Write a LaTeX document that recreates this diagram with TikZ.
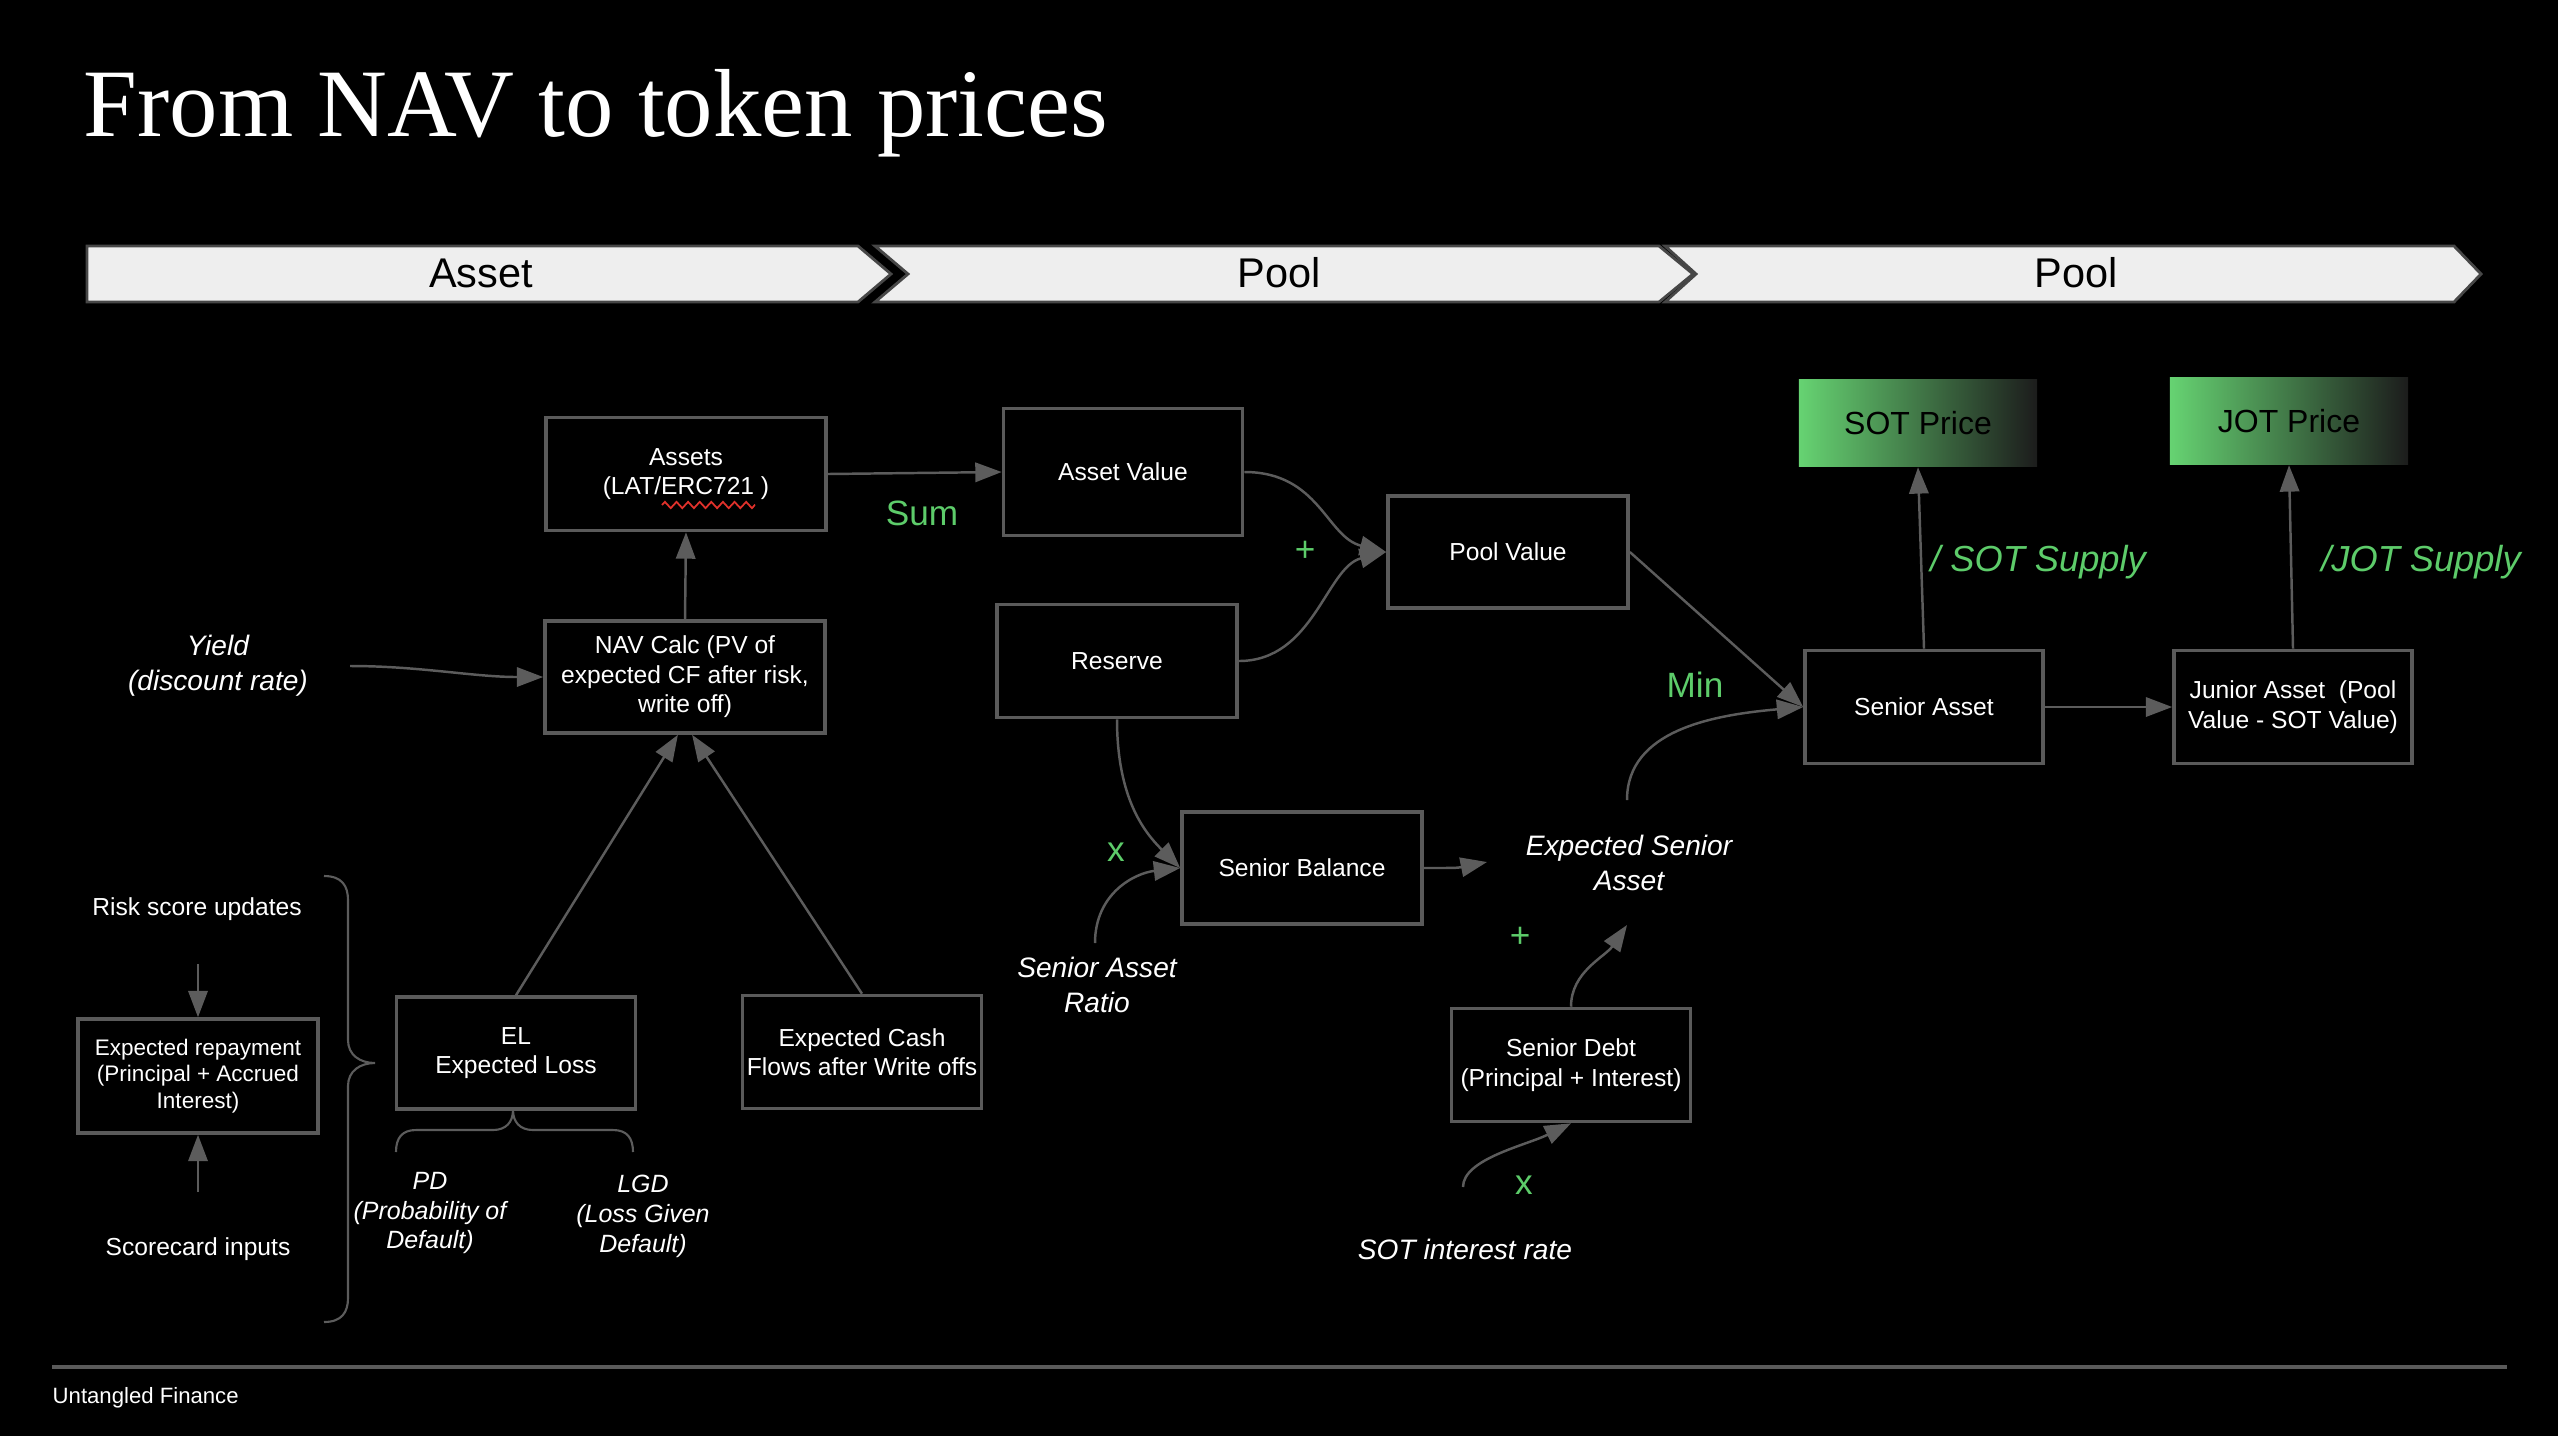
\documentclass[tikz,border=0pt]{standalone}
\usepackage{fontspec}
\setmainfont{Liberation Sans}
\newfontfamily\titlefont{Liberation Serif}
\usetikzlibrary{arrows.meta,decorations.pathmorphing}
\definecolor{boxgray}{HTML}{5A5A5A}
\definecolor{linegray}{HTML}{5C5C5C}
\definecolor{accent}{HTML}{5DCC6A}
\definecolor{barfill}{HTML}{EEEEEE}
\definecolor{baredge}{HTML}{474747}
\definecolor{pricegreen}{HTML}{66D372}
\definecolor{pricedark}{HTML}{1C1C1C}
\definecolor{spellred}{HTML}{E0312B}
\begin{document}
\begin{tikzpicture}[x=0.01cm,y=-0.01cm,
  box/.style={draw=boxgray, line width=1pt, fill=black, text=white,
    minimum width=2.39cm, minimum height=1.13cm, inner sep=0pt, align=center,
    font=\fontsize{7}{8.4}\selectfont},
  pricebox/.style={left color=pricegreen, right color=pricedark,
    minimum width=2.38cm, minimum height=0.87cm, inner sep=0pt,
    text=black, font=\fontsize{9.1}{11}\selectfont},
  conn/.style={draw=linegray, line width=0.7pt, -{Triangle[length=7.5pt,width=5.5pt]}},
  brace/.style={draw=linegray, line width=0.6pt},
  lbl/.style={text=white, align=center, font=\itshape\fontsize{8}{10}\selectfont},
  smalllbl/.style={text=white, align=center, font=\itshape\fontsize{7.1}{8.5}\selectfont},
  plainlbl/.style={text=white, align=center, font=\fontsize{7}{8.4}\selectfont},
  glbl/.style={text=accent, font=\fontsize{10}{12}\selectfont},
  gitlbl/.style={text=accent, font=\itshape\fontsize{10.3}{12}\selectfont},
  bar/.style={fill=barfill, draw=baredge, line width=0.8pt, line join=miter},
  bartext/.style={text=black, font=\fontsize{11.8}{14}\selectfont}
]
% page
\fill[black] (0,0) rectangle (2558,1436);
\useasboundingbox (0,0) rectangle (2558,1436);

% title
\node[anchor=base west, inner sep=0pt, text=white,
  font=\titlefont\fontsize{27.5}{32}\selectfont] (title) at (83,136) {From NAV to token prices};

% stage bar
\draw[bar] (87,246) -- (858,246) -- (891,274) -- (858,302) -- (87,302) -- cycle;
\draw[bar] (875,246) -- (1659,246) -- (1693,274) -- (1659,302) -- (875,302) -- (908,274) -- cycle;
\draw[bar] (1665,246) -- (2454,246) -- (2481,274) -- (2454,302) -- (1665,302) -- (1696,274) -- cycle;
\node[bartext] (stageA) at (481,273) {Asset};
\node[bartext] (stageB) at (1279,273) {Pool};
\node[bartext] (stageC) at (2076,273) {Pool};

% asset side
\node[box, minimum width=2.80cm] (assets) at (686,474) {Assets\\(LAT/ERC721 )};
\draw[spellred, line width=0.5pt, decorate,
  decoration={zigzag, segment length=3.3pt, amplitude=0.9pt}] (662,505) -- (755,505);
\node[box, minimum width=2.80cm, minimum height=1.12cm] (nav) at (685,677)
  {NAV Calc (PV of\\expected CF after risk,\\write off)};
\node[box, minimum height=1.12cm] (el) at (516,1053) {EL\\Expected Loss};
\node[box] (cash) at (862,1052) {Expected Cash\\Flows after Write offs};
\node[box, minimum width=2.40cm, minimum height=1.14cm,
  font=\fontsize{6.4}{7.5}\selectfont] (rep) at (198,1076)
  {Expected repayment\\(Principal + Accrued\\Interest)};

\node[lbl] (yield) at (218,666) {Yield\\(discount rate)};
\coordinate (yieldend) at (350,666);
\node[plainlbl] (risk) at (197,909) {Risk score updates};
\node[plainlbl] (score) at (198,1249) {Scorecard inputs};
\coordinate (riskend) at (198,964);
\coordinate (scoreend) at (198,1192);
\node[smalllbl] (pd) at (430,1213) {PD\\(Probability of\\Default)};
\node[smalllbl] (lgd) at (643,1216) {LGD\\(Loss Given\\Default)};

% braces
\draw[brace] (324,876) .. controls (342,876) and (348,886) .. (348,900) -- (348,1040)
  .. controls (348,1055) and (360,1063) .. (375,1063)
  .. controls (360,1063) and (348,1071) .. (348,1086) -- (348,1298)
  .. controls (348,1312) and (342,1322) .. (324,1322);
\draw[brace] (396,1152) .. controls (396,1138) and (402,1130) .. (416,1130) -- (493,1130)
  .. controls (506,1130) and (513,1122) .. (513,1110)
  .. controls (513,1122) and (520,1130) .. (533,1130) -- (613,1130)
  .. controls (627,1130) and (633,1138) .. (633,1152);

% pool side
\node[box, minimum height=1.27cm] (assetval) at (1123,472) {Asset Value};
\node[box, minimum width=2.40cm] (reserve) at (1117,661) {Reserve};
\node[box, minimum width=2.40cm, minimum height=1.12cm] (poolval) at (1508,552) {Pool Value};
\node[box, minimum width=2.40cm, minimum height=1.12cm] (senbal) at (1302,868) {Senior Balance};
\node[box] (sendebt) at (1571,1065) {Senior Debt\\(Principal + Interest)};
\node[box, minimum width=2.38cm] (senior) at (1924,707) {Senior Asset};
\node[box, minimum width=2.38cm] (junior) at (2293,707) {Junior Asset\ \ (Pool\\Value - SOT Value)};
\node[pricebox] (sot) at (1918,423) {SOT Price};
\node[pricebox] (jot) at (2289,421) {JOT Price};

\node[lbl] (esa) at (1629,863) {Expected Senior\\Asset};
\node[lbl] (ratio) at (1097,985) {Senior Asset\\Ratio};
\node[lbl] (sotrate) at (1465,1249) {SOT interest rate};
\coordinate (esatop) at (1627,800);
\coordinate (esaleft) at (1487,862);
\coordinate (esabottom) at (1627,925);
\coordinate (ratiotop) at (1095,943);
\coordinate (ratestart) at (1463,1187);

% operator labels
\node[glbl] (sumlbl) at (922,513) {Sum};
\node[glbl] (plusA) at (1305,551) {+};
\node[glbl] (minlbl) at (1695,685) {Min};
\node[glbl] (timesA) at (1116,852) {x};
\node[glbl] (plusB) at (1520,937) {+};
\node[glbl] (timesB) at (1524,1185) {x};
\node[gitlbl] (sotsup) at (2038,562) {/ SOT Supply};
\node[gitlbl] (jotsup) at (2421,562) {/JOT Supply};

% connectors
\draw[conn] (assets.east) -- (assetval.west);
\draw[conn] (nav.north) -- (assets.south);
\draw[conn] (yieldend) .. controls +(70,0) and +(-70,0) .. (nav.west);
\draw[conn] (el.north) -- (nav.263);
\draw[conn] (cash.north) -- (nav.277);
\draw[conn] (riskend) -- (rep.north);
\draw[conn] (scoreend) -- (rep.south);

\draw[conn] (assetval.east) .. controls +(75,0) and +(-60,-15) .. (poolval.west);
\draw[conn] (reserve.east) .. controls +(75,0) and +(-60,15) .. (poolval.west);
\draw[conn] (poolval.east) -- (senior.west);
\draw[conn] (esatop) .. controls +(0,-70) and +(-90,8) .. (senior.west);
\draw[conn] (reserve.south) .. controls +(0,80) and +(-35,-35) .. (senbal.west);
\draw[conn] (ratiotop) .. controls +(0,-50) and +(-45,5) .. (senbal.west);
\draw[conn] (senbal.east) .. controls +(30,0) and +(-30,6) .. (esaleft);
\draw[conn] (sendebt.north) .. controls +(0,-35) and +(-22,32) .. (esabottom);
\draw[conn] (ratestart) .. controls +(0,-28) and +(-45,22) .. (sendebt.south);
\draw[conn] (senior.north) -- (sot.south);
\draw[conn] (junior.north) -- (jot.south);
\draw[conn] (senior.east) -- (junior.west);

% footer
\draw[draw=boxgray, line width=1.1pt] (52,1367) -- (2507,1367);
\node[anchor=west, inner sep=0pt, text=white, font=\fontsize{6.3}{7.5}\selectfont] (footer)
  at (52,1398) {Untangled Finance};
\end{tikzpicture}
\end{document}
